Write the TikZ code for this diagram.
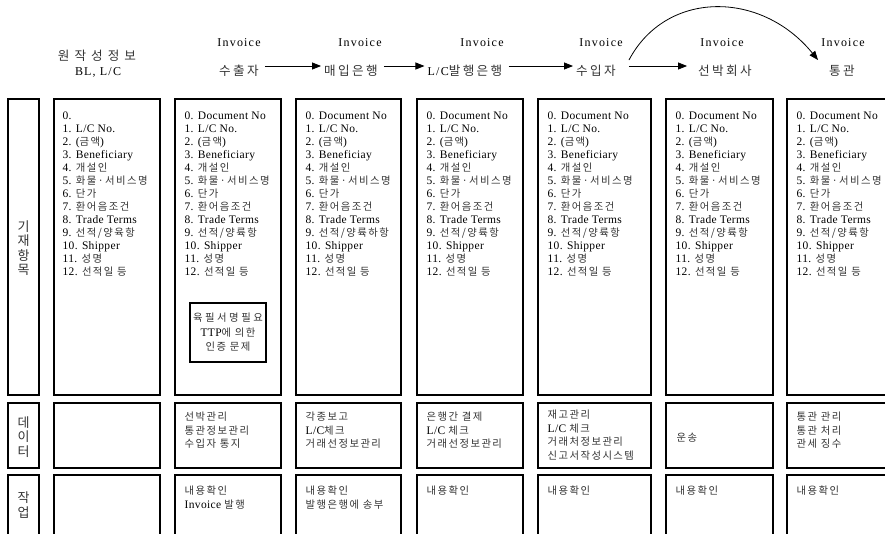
\documentclass[tikz,border=0pt]{standalone}
\usepackage{fontspec}
\setmainfont[LetterSpace=3]{Liberation Serif}
\newfontfamily\krfont[Scale=0.9,LetterSpace=14]{Noto Sans CJK KR}
\newfontfamily\krhead[Scale=1.05,LetterSpace=19]{Noto Sans CJK KR}
\newfontfamily\lathead[LetterSpace=10]{Liberation Serif}
\newfontfamily\krlab{Noto Sans CJK KR}
\usetikzlibrary{arrows.meta,calc}
\definecolor{krgray}{gray}{0.2}
\newcommand\hg[1]{{\krfont\color{krgray}#1}}
\newcommand\hh[1]{{\krhead\color{krgray}#1}}
\newcommand\itemlist[3]{\strut 0.#1\\1. L/C No.\\2. (\hg{금액})\\3. #2\\4. \hg{개설인}\\5. \hg{화물·서비스명}\\6. \hg{단가}\\7. \hg{환어음조건}\\8. Trade Terms\\9. \hg{#3}\\10. Shipper\\11. \hg{성명}\\12. \hg{선적일 등}}
\tikzset{
  box/.style={draw, line width=1.1pt, inner sep=0pt},
  listtxt/.style={anchor=north west, inner sep=0pt, align=left, font=\fontsize{11.5}{13}\selectfont},
  datatxt/.style={anchor=north west, inner sep=0pt, align=left, font=\fontsize{11.5}{13.5}\selectfont},
  tasktxt/.style={anchor=north west, inner sep=0pt, align=left, font=\fontsize{11.5}{14}\selectfont},
  head/.style={inner sep=2pt, font=\fontsize{12}{14}\selectfont\lathead},
  arr/.style={-{Triangle[length=9pt,width=7pt]}, line width=0.8pt},
  lab/.style={align=center, inner sep=0pt, text=krgray, font=\fontsize{13}{14.5}\selectfont\krlab},
}
\begin{document}
\begin{tikzpicture}[x=1pt,y=-1pt]
\useasboundingbox (0,0) rectangle (885,533);
\clip (0,0) rectangle (885,533);
% boxes
\foreach \i/\l/\r in {0/8/39,1/54/160,2/175/281,3/296/401,4/417/523,5/538/651,6/666/773,7/787/905}{
  \pgfmathsetmacro\w{\r-\l}
  \pgfmathsetmacro\c{(\l+\r)/2}
  \node[box, minimum width=\w pt, minimum height=296pt] (T\i) at (\c,247) {};
  \node[box, minimum width=\w pt, minimum height=65pt] (D\i) at (\c,435.5) {};
  \node[box, minimum width=\w pt, minimum height=75pt] (W\i) at (\c,512.5) {};
}
% row labels
\node[lab] (L1) at (23.5,248) {기\\재\\항\\목};
\node[lab] (L2) at (23.5,437) {데\\이\\터};
\node[lab] (L3) at (23.5,505) {작\\업};
% headers
\node[head] (g1) at (97,56) {\hh{\addfontfeature{LetterSpace=40}원작성정보}};
\node[head] (g1b) at (98,72) {BL, L/C};
\node[head] (i2) at (239,43) {Invoice};
\node[head] (i3) at (360,43) {Invoice};
\node[head] (i4) at (482,43) {Invoice};
\node[head] (i5) at (601,43) {Invoice};
\node[head] (i6) at (722,43) {Invoice};
\node[head] (i7) at (843,43) {Invoice};
\node[head] (h2) at (239,71) {\hh{수출자}};
\node[head] (h3) at (351,71) {\hh{매입은행}};
\node[head] (h4) at (465,71) {L/C\hh{발행은행}};
\node[head] (h5) at (596,71) {\hh{수입자}};
\node[head] (h6) at (725,71) {\hh{선박회사}};
\node[head] (h7) at (842,71) {\hh{통관}};
\draw[arr, shorten <=4pt, shorten >=1pt] ([yshift=5pt]h2.east) -- ([yshift=5pt]h3.west);
\draw[arr, shorten <=4pt, shorten >=1pt] ([yshift=5pt]h3.east) -- ([yshift=5pt]h4.west);
\draw[arr, shorten <=4pt, shorten >=1pt] ([yshift=5pt]h4.east) -- ([yshift=5pt]h5.west);
\draw[arr, shorten <=11pt, shorten >=9pt] ([yshift=5pt]h5.east) -- ([yshift=5pt]h6.west);
\coordinate (cs) at ($(h5.east)+(11,-11)$);
\coordinate (ce) at ($(h7.west)+(-9,-11)$);
\draw[arr] (cs) .. controls +(37,-70) and +(-57,-70) .. (ce);
% item lists
\node[listtxt] (t1) at ($(T1.north west)+(9,12)$) {\itemlist{}{Beneficiary}{선적/양육항}};
\node[listtxt] (t2) at ($(T2.north west)+(10,12)$) {\itemlist{ Document No}{Beneficiary}{선적/양륙항}};
\node[listtxt] (t3) at ($(T3.north west)+(10,12)$) {\itemlist{ Document No}{Beneficiay}{선적/양륙하항}};
\node[listtxt] (t4) at ($(T4.north west)+(10,12)$) {\itemlist{ Document No}{Beneficiary}{선적/양륙항}};
\node[listtxt] (t5) at ($(T5.north west)+(10,12)$) {\itemlist{ Document No}{Beneficiary}{선적/양륙항}};
\node[listtxt] (t6) at ($(T6.north west)+(10,12)$) {\itemlist{ Document No}{Beneficiary}{선적/양륙항}};
\node[listtxt] (t7) at ($(T7.north west)+(10,12)$) {\itemlist{ Document No}{Beneficiary}{선적/양륙항}};
\node[draw, line width=1.1pt, minimum width=76pt, minimum height=59pt, inner sep=0pt, align=center, font=\fontsize{11.5}{14.5}\selectfont] (auth) at (228,332.5) {\hg{\addfontfeature{LetterSpace=24}육필서명필요}\\TTP\hg{에 의한}\\\hg{인증 문제}};
% data row
\node[datatxt] (d2) at ($(D2.north west)+(10,8.5)$) {\strut\hg{선박관리}\\\hg{통관정보관리}\\\hg{수입자 통지}};
\node[datatxt] (d3) at ($(D3.north west)+(10,8.5)$) {\strut\hg{각종보고}\\L/C\hg{체크}\\\hg{거래선정보관리}};
\node[datatxt] (d4) at ($(D4.north west)+(10,8.5)$) {\strut\hg{은행간 결제}\\L/C \hg{체크}\\\hg{거래선정보관리}};
\node[datatxt] (d5) at ($(D5.north west)+(10,6.5)$) {\strut\hg{재고관리}\\L/C \hg{체크}\\\hg{거래처정보관리}\\\hg{신고서작성시스템}};
\node[anchor=west, inner sep=0pt, font=\fontsize{11.5}{13.5}\selectfont] (d6) at ($(D6.west)+(11,2.5)$) {\hg{운송}};
\node[datatxt] (d7) at ($(D7.north west)+(10,8.5)$) {\strut\hg{통관 관리}\\\hg{통관 처리}\\\hg{관세 징수}};
% task row
\node[tasktxt] (w2) at ($(W2.north west)+(10,10.2)$) {\strut\hg{내용확인}\\Invoice \hg{발행}};
\node[tasktxt] (w3) at ($(W3.north west)+(10,10.2)$) {\strut\hg{내용확인}\\\hg{발행은행에 송부}};
\node[tasktxt] (w4) at ($(W4.north west)+(10,10.2)$) {\strut\hg{내용확인}};
\node[tasktxt] (w5) at ($(W5.north west)+(10,10.2)$) {\strut\hg{내용확인}};
\node[tasktxt] (w6) at ($(W6.north west)+(10,10.2)$) {\strut\hg{내용확인}};
\node[tasktxt] (w7) at ($(W7.north west)+(10,10.2)$) {\strut\hg{내용확인}};
\end{tikzpicture}
\end{document}
